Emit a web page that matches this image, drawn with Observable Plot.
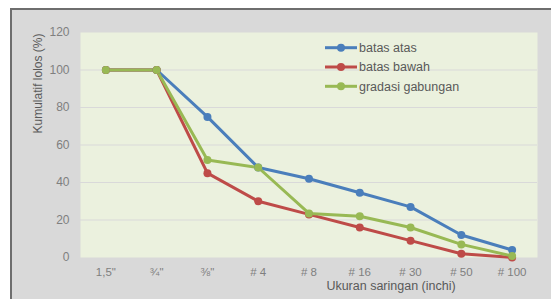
<!DOCTYPE html>
<html>
<head>
<meta charset="utf-8">
<script src="https://cdn.jsdelivr.net/npm/d3@7"></script>
<script src="https://cdn.jsdelivr.net/npm/@observablehq/plot@0.6"></script>
<style>
  html, body { margin: 0; padding: 0; background: #ffffff; overflow: hidden; }
  #wrap { position: absolute; left: 10px; top: 8px; border-top: 2px solid #6e6e6e; border-left: 2px solid #6e6e6e; background: #d9d9d9; }
  #wrap svg { display: block; max-width: none !important; }
</style>
</head>
<body>
<div id="wrap"></div>
<script>
const sieves = ['1,5"', '¾"', '⅜"', '# 4', '# 8', '# 16', '# 30', '# 50', '# 100'];
const seriesNames = ["batas atas", "batas bawah", "gradasi gabungan"];
const batasAtas = [100, 100, 75, 48, 42, 34.5, 27, 12, 4];
const batasBawah = [100, 100, 45, 30, 23, 16, 9, 2, 0];
const gradasiGabungan = [100, 100, 52, 48, 23.5, 22, 16, 7, 0.8];
const colors = ["#4a7ebb", "#be4b48", "#98b954"];
const yTicks = [0, 20, 40, 60, 80, 100, 120];
const yLabel = "Kumulatif lolos (%)";
const xLabel = "Ukuran saringan (inchi)";

const seriesValues = [batasAtas, batasBawah, gradasiGabungan];
const data = seriesNames.flatMap((s, i) =>
  sieves.map((k, j) => ({series: s, sieve: k, value: seriesValues[i][j]}))
);

const W = 539, H = 289;
const font = "'Liberation Sans', Arial, sans-serif";

const chart = Plot.plot({
  width: W,
  height: H,
  marginLeft: 68,
  marginRight: 14,
  marginTop: 22,
  marginBottom: 42,
  style: {background: "#d9d9d9", fontFamily: font, fontSize: "12px", color: "#7f7f7f", overflow: "visible"},
  x: {type: "point", domain: sieves, padding: 0.5, align: 0.5, round: false, label: null},
  y: {domain: [0, 120], ticks: yTicks, label: null},
  color: {domain: seriesNames, range: colors},
  marks: [
    Plot.frame({fill: "#ebf1de", stroke: null}),
    Plot.gridY(yTicks.filter(d => d > 0 && d < 120), {stroke: "#d9d9d9", strokeOpacity: 1, strokeWidth: 1}),
    Plot.axisY({ticks: yTicks, tickSize: 0, tickPadding: 11, label: null, fill: "#7f7f7f", fontSize: 12}),
    Plot.axisX({tickSize: 0, tickPadding: 10, label: null, fill: "#7f7f7f", fontSize: 11.5}),
    Plot.line(data, {x: "sieve", y: "value", z: "series", stroke: "series", strokeWidth: 3}),
    Plot.dot(data, {x: "sieve", y: "value", fill: "series", r: 4, stroke: null}),
    Plot.text([yLabel], {frameAnchor: "top-left", dx: -47, dy: 51, rotate: -90, textAnchor: "middle", fill: "#595959", fontSize: 12}),
    Plot.text([xLabel], {frameAnchor: "bottom", dx: 82, dy: 32, textAnchor: "middle", fill: "#595959", fontSize: 12.5})
  ]
});

// legend
const svg = d3.select(chart);
const lg = svg.append("g").attr("font-family", font).attr("font-size", 12.5).attr("text-anchor", "start");
seriesNames.forEach((s, i) => {
  const y = 37.7 + i * 19.3;
  lg.append("line").attr("x1", 313).attr("x2", 345).attr("y1", y).attr("y2", y)
    .attr("stroke", colors[i]).attr("stroke-width", 3);
  lg.append("circle").attr("cx", 329).attr("cy", y).attr("r", 4).attr("fill", colors[i]);
  lg.append("text").attr("x", 347).attr("y", y).attr("dy", "0.35em").attr("text-anchor", "start").attr("fill", "#595959").text(s);
});

document.getElementById("wrap").appendChild(chart);
</script>
</body>
</html>
